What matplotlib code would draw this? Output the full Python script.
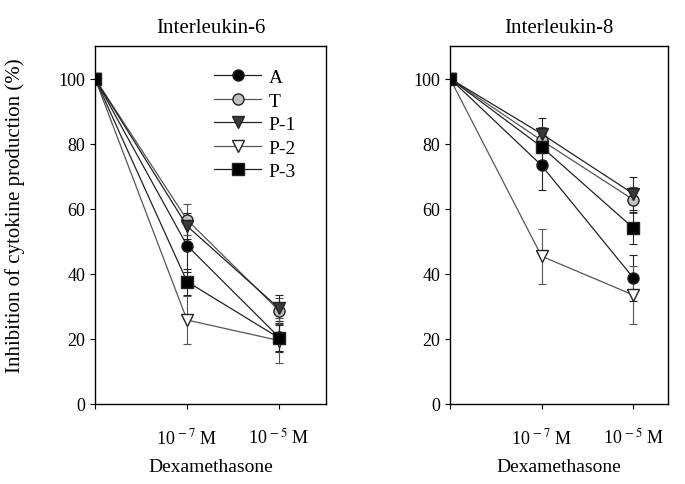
import matplotlib
matplotlib.use('Agg')

import matplotlib.pyplot as plt
from matplotlib.lines import Line2D

plt.rcParams['font.family'] = ['Liberation Serif', 'DejaVu Serif']
plt.rcParams['mathtext.fontset'] = 'stix'

doses = [0, 1, 2]
dose_labels = ['', '10$^{\\,-7}$ M', '10$^{\\,-5}$ M']
series = ['A', 'T', 'P-1', 'P-2', 'P-3']

# Interleukin-6
il6_vals = {
    'A':   [100, 48.7, 20.5],
    'T':   [100, 56.6, 28.7],
    'P-1': [100, 54.7, 29.4],
    'P-2': [100, 25.8, 19.5],
    'P-3': [100, 37.6, 20.3],
}
il6_err = {
    'A':   [0, 8.0, 4.5],
    'T':   [0, 4.7, 4.0],
    'P-1': [0, 4.0, 4.0],
    'P-2': [0, 7.3, 7.0],
    'P-3': [0, 4.0, 4.0],
}

# Interleukin-8
il8_vals = {
    'A':   [100, 73.3, 38.8],
    'T':   [100, 81.0, 62.8],
    'P-1': [100, 83.0, 64.6],
    'P-2': [100, 45.4, 33.5],
    'P-3': [100, 79.0, 54.1],
}
il8_err = {
    'A':   [0, 7.5, 7.0],
    'T':   [0, 4.0, 4.0],
    'P-1': [0, 5.0, 5.0],
    'P-2': [0, 8.5, 9.0],
    'P-3': [0, 4.0, 5.0],
}

styles = {
    'A':   dict(marker='o', mfc='black', color='#222222'),
    'T':   dict(marker='o', mfc='#c0c0c0', color='#555555'),
    'P-1': dict(marker='v', mfc='#3a3a3a', color='#222222'),
    'P-2': dict(marker='v', mfc='white', color='#555555'),
    'P-3': dict(marker='s', mfc='black', color='#222222'),
}

fig = plt.figure(figsize=(6.85, 4.85), dpi=100)
ax1 = fig.add_axes([95/685, 80/485, 231/685, 358/485])
ax2 = fig.add_axes([450/685, 80/485, 218/685, 358/485])


def draw(ax, vals, errs, title, xmax):
    for name in series:
        st = styles[name]
        ax.errorbar(doses, vals[name], yerr=errs[name], color=st['color'],
                    marker=st['marker'], mfc=st['mfc'], mec='#222222',
                    ms=8, lw=0.9, elinewidth=0.8, capsize=3, capthick=0.8)
    ax.set_xlim(0, xmax)
    ax.set_ylim(0, 110)
    ax.set_yticks([0, 20, 40, 60, 80, 100])
    ax.set_xticks(doses)
    ax.set_xticklabels(dose_labels)
    ax.tick_params(axis='x', direction='out', pad=13, labelsize=13)
    ax.tick_params(axis='y', direction='out', labelsize=13)
    ax.set_title(title, fontsize=15, pad=10)
    ax.set_xlabel('Dexamethasone', fontsize=14, labelpad=8)
    for sp in ax.spines.values():
        sp.set_linewidth(1.0)


draw(ax1, il6_vals, il6_err, 'Interleukin-6', 2.51)
draw(ax2, il8_vals, il8_err, 'Interleukin-8', 2.38)

ax1.set_ylabel('Inhibition of cytokine production (%)', fontsize=15)
ax1.yaxis.set_label_coords(-0.305, 0.53)

handles = [Line2D([], [], color=styles[n]['color'], marker=styles[n]['marker'],
                  mfc=styles[n]['mfc'], mec='#222222', ms=8, lw=0.9)
           for n in series]
ax1.legend(handles, series, loc='upper right', bbox_to_anchor=(0.93, 0.975),
           frameon=False, fontsize=14, handlelength=2.4, handletextpad=0.4,
           labelspacing=0.3, borderpad=0.2)

fig.savefig('out.png', dpi=100)
